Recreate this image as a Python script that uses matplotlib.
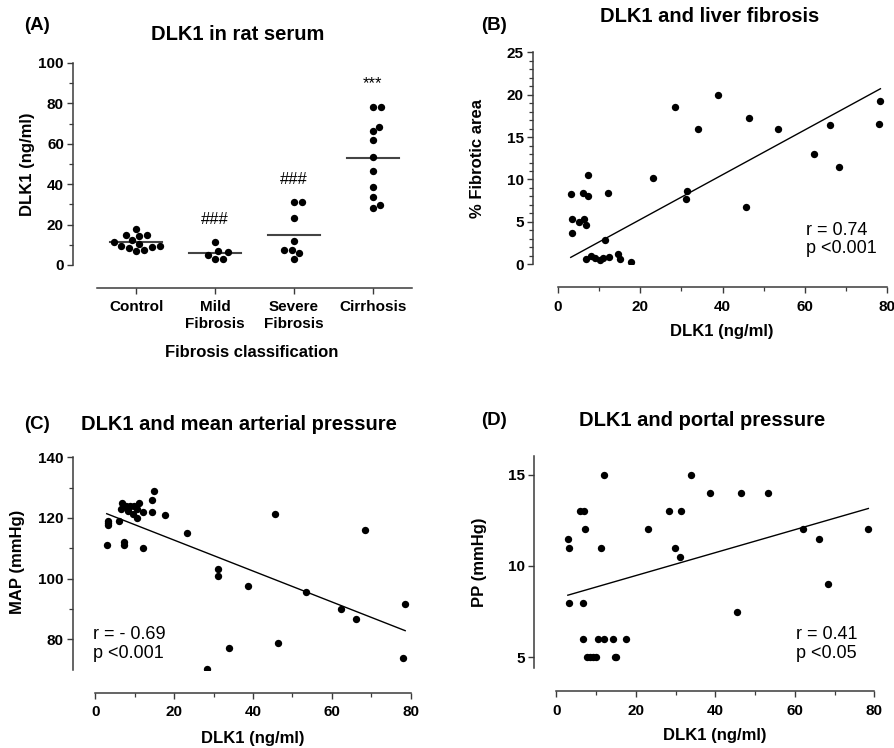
import numpy as np
import matplotlib
matplotlib.use("Agg")
import matplotlib.pyplot as plt
from matplotlib.ticker import MultipleLocator, FixedLocator

plt.rcParams['font.family'] = ['Liberation Sans', 'DejaVu Sans']
plt.rcParams['font.weight'] = 'bold'

# ---------------- data ----------------
groups = ["Control", "Mild\nFibrosis", "Severe\nFibrosis", "Cirrhosis"]
control = [15.0, 14.3, 17.8, 14.7, 9.6, 9.2, 12.2, 10.4, 7.2, 6.8, 8.4, 8.7, 11.2]
mild = [6.8, 4.9, 11.2, 3.1, 3.1, 6.3]
severe = [31.1, 31.1, 23.1, 12.0, 7.2, 7.2, 5.9, 3.0]
cirrhosis = [78.1, 78.4, 68.4, 66.2, 62.1, 53.4, 46.5, 38.7, 33.8, 29.7, 28.3]
group_values = [control, mild, severe, cirrhosis]
group_marks = ["", "###", "###", "***"]
mark_heights = [0, 22.4, 42.2, 90.0]

b_dlk1 = [3.1, 3.5, 3.3, 5.0, 6.2, 6.4, 6.9, 7.4, 7.4, 6.9, 8.1, 9.0, 10.3, 10.9, 11.4,
          12.2, 12.3, 14.7, 15.0, 17.8, 23.1, 28.5, 31.3, 31.2, 34.0, 38.9, 45.6, 46.5,
          53.4, 62.2, 66.2, 68.4, 78.0, 78.4]
b_fib = [8.25, 5.3, 3.7, 5.0, 8.4, 5.35, 4.6, 8.1, 10.5, 0.6, 1.0, 0.8, 0.5, 0.8, 2.9,
         8.45, 0.9, 1.2, 0.6, 0.3, 10.2, 18.6, 8.7, 7.7, 16.0, 20.0, 6.8, 17.3,
         15.9, 13.0, 16.4, 11.5, 16.5, 19.3]

c_dlk1 = [2.9, 3.1, 3.1, 3.3, 6.1, 6.7, 6.4, 7.3, 7.3, 7.8, 8.4, 8.8, 8.2, 9.5, 9.9,
          10.5, 11.2, 10.7, 12.0, 12.0, 14.3, 14.5, 14.9, 17.7, 23.2, 28.4, 31.2, 31.1,
          33.9, 38.8, 45.6, 46.4, 53.4, 62.2, 66.2, 68.4, 78.0, 78.6]
c_map = [111.0, 119.1, 118.5, 117.8, 119.0, 125.1, 123.0, 112.2, 111.0, 124.1, 123.0,
         124.1, 122.2, 121.3, 124.1, 120.0, 125.1, 123.0, 121.9, 110.0, 121.9, 126.0,
         128.8, 120.9, 115.0, 70.2, 103.1, 100.9, 77.1, 97.6, 121.4, 78.7, 95.5, 90.1,
         86.6, 115.9, 73.7, 91.5]

d_dlk1 = [2.9, 3.1, 3.3, 6.0, 7.0, 7.1, 6.6, 6.7, 7.7, 8.6, 9.2, 10.1, 10.4, 11.2, 11.9,
          12.1, 14.3, 14.7, 15.1, 17.6, 23.0, 28.3, 29.9, 31.1, 31.3, 33.8, 38.7, 45.5,
          46.4, 53.3, 62.1, 66.2, 68.3, 78.5]
d_pp = [11.5, 11.0, 8.0, 13.0, 13.0, 12.0, 8.0, 6.0, 5.0, 5.0, 5.0, 5.0, 6.0, 11.0, 15.0,
        6.0, 6.0, 5.0, 5.0, 6.0, 12.0, 13.0, 11.0, 10.5, 13.0, 15.0, 14.0, 7.5,
        14.0, 14.0, 12.0, 11.5, 9.0, 12.0]

stats_b = "r = 0.74\np <0.001"
stats_c = "r = - 0.69\np <0.001"
stats_d = "r = 0.41\np <0.05"

# ---------------- figure ----------------
W, H = 894, 748
fig = plt.figure(figsize=(W / 100, H / 100), dpi=100)


def px_axes(left, top, right, bottom):
    return fig.add_axes([left / W, 1 - bottom / H, (right - left) / W, (bottom - top) / H])


SPINE_C = "#3a3a3a"
TICK_FS = 11
LAB_FS = 12
MS = 28


def style(ax, yout, xout):
    for s in ("top", "right"):
        ax.spines[s].set_visible(False)
    ax.spines["left"].set_position(("outward", yout * 0.72))
    ax.spines["bottom"].set_position(("outward", xout * 0.72))
    for s in ("left", "bottom"):
        ax.spines[s].set_color(SPINE_C)
        ax.spines[s].set_linewidth(1.1)
    ax.tick_params(which="major", direction="out", length=4.5, width=1.0,
                   color=SPINE_C, labelsize=TICK_FS, pad=2)
    ax.tick_params(which="minor", direction="out", length=3, width=0.9, color=SPINE_C)
    ax.tick_params(axis="x", which="major", pad=4.5)


def beeswarm(ax, xc, values, diam):
    t = ax.transData
    x0 = t.transform((xc, 0))[0]
    ppu = t.transform((xc + 1, 0))[0] - x0
    ys = [t.transform((xc, v))[1] for v in values]
    order = np.argsort(values)
    placed = []
    offs = np.zeros(len(values))
    cands = [0.0]
    for k in range(1, 200):
        cands += [k * 0.5, -k * 0.5]
    for i in order:
        y = ys[i]
        for c in cands:
            if all((c - px) ** 2 + (y - py) ** 2 >= diam ** 2 for px, py in placed):
                break
        placed.append((c, y))
        offs[i] = c
    return [xc + o / ppu for o in offs]


# ---------------- Panel A ----------------
axA = px_axes(97, 63, 412, 265)
axA.set_xlim(-0.5, 3.5)
axA.set_ylim(0, 100)
for gi, vals in enumerate(group_values):
    xs = beeswarm(axA, gi, vals, 7.8)
    axA.scatter(xs, vals, s=MS, color="black", zorder=3, linewidths=0)
    m = np.mean(vals)
    axA.plot([gi - 0.33, gi + 0.33], [m, m], color="#444444", lw=1.5, zorder=2)
    if group_marks[gi]:
        axA.text(gi, mark_heights[gi], group_marks[gi], ha="center", va="center",
                 fontsize=12, fontweight="normal")
axA.set_xticks(range(4))
axA.set_xticklabels(groups)
axA.yaxis.set_major_locator(MultipleLocator(20))
axA.yaxis.set_minor_locator(MultipleLocator(10))
style(axA, 24, 22.5)
for lab in axA.get_xticklabels():
    lab.set_linespacing(1.25)
axA.set_ylabel("DLK1 (ng/ml)", fontsize=LAB_FS, fontweight="bold", va="center")
axA.yaxis.set_label_coords(-0.222, 0.5)
axA.set_xlabel("Fibrosis classification", fontsize=LAB_FS, fontweight="bold", va="center")
axA.xaxis.set_label_coords(0.492, -0.431)


def scatter_panel(ax, x, y, ylim, ymaj, ymin_loc, stats, stats_xy, ylabel, ylc, xlc,
                  yout, xout, through_origin=False):
    ax.set_xlim(0, 80)
    ax.set_ylim(*ylim)
    ax.scatter(x, y, s=MS, color="black", zorder=3, linewidths=0)
    xa, ya = np.asarray(x), np.asarray(y)
    if through_origin:
        k, b = np.sum(xa * ya) / np.sum(xa * xa), 0.0
    else:
        k, b = np.polyfit(xa, ya, 1)
    xx = np.array([xa.min(), xa.max()])
    ax.plot(xx, k * xx + b, color="black", lw=1.0, zorder=2)
    ax.xaxis.set_major_locator(MultipleLocator(20))
    ax.xaxis.set_minor_locator(MultipleLocator(10))
    ax.yaxis.set_major_locator(ymaj)
    if ymin_loc is not None:
        ax.yaxis.set_minor_locator(ymin_loc)
    style(ax, yout, xout)
    ax.text(stats_xy[0], stats_xy[1], stats, transform=ax.transAxes, ha="left",
            va="center", fontsize=13, linespacing=1.15, fontweight="normal")
    ax.set_ylabel(ylabel, fontsize=LAB_FS, fontweight="bold", va="center")
    ax.yaxis.set_label_coords(*ylc)
    ax.set_xlabel("DLK1 (ng/ml)", fontsize=LAB_FS, fontweight="bold", va="center")
    ax.xaxis.set_label_coords(*xlc)


# ---------------- Panel B ----------------
axB = px_axes(558, 52.3, 887, 264.3)
scatter_panel(axB, b_dlk1, b_fib, (0, 25), MultipleLocator(5), MultipleLocator(1),
              stats_b, ((806 - 558) / 329, (264.3 - 239.5) / 212), "% Fibrotic area",
              (-0.246, 0.497), (0.498, -0.319), 25, 23, through_origin=True)

# ---------------- Panel C ----------------
axC = px_axes(95.3, 457.3, 410.7, 669.7)
scatter_panel(axC, c_dlk1, c_map, (70, 140), FixedLocator([80, 100, 120, 140]),
              FixedLocator([90, 110, 130]), stats_c,
              ((92.7 - 95.3) / 315.4, (669.7 - 644) / 212.4), "MAP (mmHg)",
              (-0.248, 0.507), (0.5, -0.326), 22.6, 23.3)

# ---------------- Panel D ----------------
axD = px_axes(556.3, 456.3, 874.3, 668.3)
scatter_panel(axD, d_dlk1, d_pp, (4.4, 16.0), FixedLocator([5, 10, 15]), None, stats_d,
              ((796 - 556.3) / 318, (668.3 - 644) / 212), "PP (mmHg)",
              (-0.24, 0.501), (0.499, -0.318), 22, 23)

# ---------------- titles ----------------
TFS = 14.5
fig.text(37 / W, 1 - 25 / H, "(A)", ha="center", va="center", fontsize=13.5, fontweight="bold")
fig.text(238 / W, 1 - 35 / H, "DLK1 in rat serum", ha="center", va="center", fontsize=TFS, fontweight="bold")
fig.text(494.5 / W, 1 - 25 / H, "(B)", ha="center", va="center", fontsize=13.5, fontweight="bold")
fig.text(710 / W, 1 - 17 / H, "DLK1 and liver fibrosis", ha="center", va="center", fontsize=TFS, fontweight="bold")
fig.text(37 / W, 1 - 424 / H, "(C)", ha="center", va="center", fontsize=13.5, fontweight="bold")
fig.text(239 / W, 1 - 424 / H, "DLK1 and mean arterial pressure", ha="center", va="center", fontsize=TFS, fontweight="bold")
fig.text(494.5 / W, 1 - 420.7 / H, "(D)", ha="center", va="center", fontsize=13.5, fontweight="bold")
fig.text(702 / W, 1 - 420.7 / H, "DLK1 and portal pressure", ha="center", va="center", fontsize=TFS, fontweight="bold")

fig.savefig("out.png", dpi=100)
